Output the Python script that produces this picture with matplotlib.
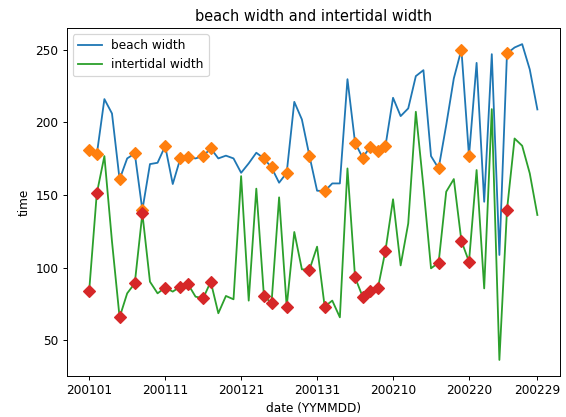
import matplotlib.pyplot as plt
import numpy as np
import pandas as pd

# dates 2020-01-01 .. 2020-02-29 as YYMMDD
dates = list(pd.date_range("2020-01-01", "2020-02-29").strftime("%y%m%d"))

beach_width = [180.8, 177.8, 215.9, 206.0, 160.7, 175.1, 178.5, 139.6, 171.2, 172.1,
               183.6, 157.5, 175.1, 175.8, 175.1, 176.7, 182.0, 175.1, 177.0, 175.1,
               165.2, 171.7, 179.0, 175.1, 168.9, 158.4, 165.2, 214.0, 201.9, 176.7,
               152.9, 152.6, 157.9, 157.9, 229.6, 185.9, 175.6, 183.1, 180.4, 183.6,
               216.8, 204.2, 209.5, 231.7, 235.8, 176.7, 168.2, 198.0, 230.1, 250.0,
               176.7, 240.8, 145.3, 246.8, 108.7, 247.3, 251.4, 253.7, 236.3, 208.8]

intertidal_width = [84.2, 151.0, 176.7, 118.0, 65.8, 82.3, 89.2, 137.3, 90.3, 82.3,
                    86.2, 83.5, 86.9, 88.7, 80.0, 78.9, 90.3, 68.6, 80.5, 78.2,
                    162.9, 77.3, 154.3, 80.7, 75.4, 148.3, 73.2, 124.5, 98.8, 98.6,
                    114.4, 73.2, 77.3, 65.8, 168.2, 93.3, 80.0, 84.2, 85.7, 111.6,
                    147.0, 101.5, 130.4, 207.2, 155.6, 99.5, 103.4, 152.2, 160.9, 118.3,
                    104.1, 167.1, 85.7, 209.0, 36.5, 139.6, 188.8, 183.8, 164.8, 136.2]

# days that get a marker
marked = [0, 1, 4, 6, 7, 10, 12, 13, 15, 16, 23, 24, 26, 29, 31,
          35, 36, 37, 38, 39, 46, 49, 50, 55]

tick_idx = [0, 10, 20, 30, 40, 50, 59]

dpi = 87
fig = plt.figure(figsize=(566 / dpi, 417 / dpi), dpi=dpi)
ax = fig.add_axes([0.118, 0.099, 0.871, 0.833])

ax.plot(dates, beach_width, color="C0", label="beach width")
ax.plot(dates, intertidal_width, color="C2", label="intertidal width")

ax.plot([dates[i] for i in marked], [beach_width[i] for i in marked],
        "D", color="C1", markersize=7, linestyle="none")
ax.plot([dates[i] for i in marked], [intertidal_width[i] for i in marked],
        "D", color="C3", markersize=7, linestyle="none")

ax.set_xticks([dates[i] for i in tick_idx])
ax.set_title("beach width and intertidal width")
ax.set_xlabel("date (YYMMDD)")
ax.set_ylabel("time")
ax.legend(loc="upper left")

fig.savefig("out.png", dpi=dpi)
